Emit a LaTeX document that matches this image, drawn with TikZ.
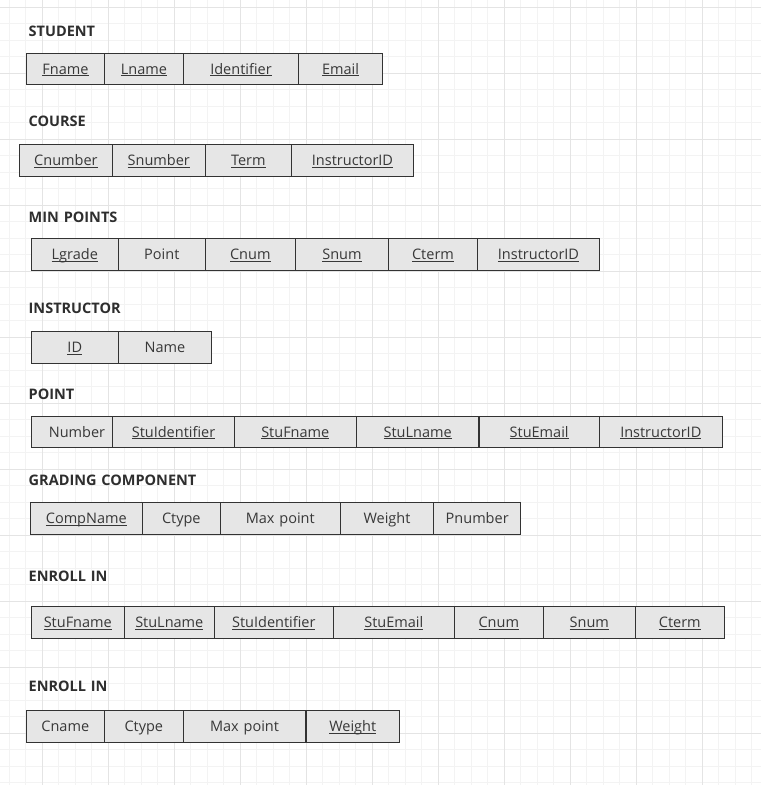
\documentclass[tikz,border=0pt]{standalone}
\usepackage{fontspec}
\setmainfont{Open Sans}
\definecolor{gridminor}{HTML}{F3F3F3}
\definecolor{gridmajor}{HTML}{E4E4E4}
\definecolor{cellfill}{HTML}{E6E6E6}
\definecolor{celldraw}{HTML}{333333}
\definecolor{celltext}{HTML}{383838}
\definecolor{titletext}{HTML}{2E2E2E}
\tikzset{
  cellb/.style={draw=celldraw, fill=cellfill, line width=1pt, inner sep=0pt, outer sep=0pt,
    text=celltext, font=\fontsize{14.5}{16}\selectfont, text height=10.3pt, text depth=0pt},
  titleb/.style={anchor=west, inner sep=0pt, text=titletext,
    font=\fontsize{14.5}{16}\selectfont\bfseries}
}
\newcommand\cellbox[7][]{\node[cellb,#1, minimum width={(#4-#3)*1pt}, minimum height={(#6-#5)*1pt}] (#2) at ({(#3+#4)/2},{(#5+#6)/2+0.5}) {#7};}
\newcommand\U[1]{\setbox0\hbox{#1}\rlap{\rule[-1.8pt]{\wd0}{0.9pt}}\box0}
\begin{document}
\begin{tikzpicture}[x=1pt,y=-1pt]
\useasboundingbox (0,0) rectangle (761,785);
\fill[white] (0,0) rectangle (761,785);
% grid
\foreach \i in {0,...,46} {
  \draw[gridminor, line width=1pt] ({9+16.5*\i},0) -- ({9+16.5*\i},785);
}
\foreach \i in {0,...,47} {
  \draw[gridminor, line width=1pt] (0,{7+16.5*\i}) -- (761,{7+16.5*\i});
}
\foreach \i in {0,...,11} {
  \draw[gridmajor, line width=1pt] ({42+66*\i},0) -- ({42+66*\i},785);
}
\foreach \i in {0,...,11} {
  \draw[gridmajor, line width=1pt] (0,{7+66*\i}) -- (761,{7+66*\i});
}

% STUDENT
\node[titleb] (tstudent) at (28.5,31) {STUDENT};
\cellbox{s1}{26.5}{104.5}{53.3}{84.3}{\U{Fname}}
\cellbox{s2}{104.5}{183.5}{53.3}{84.3}{\U{Lname}}
\cellbox{s3}{183.5}{298.5}{53.3}{84.3}{\U{Identifier}}
\cellbox{s4}{298.5}{382.5}{53.3}{84.3}{\U{Email}}

% COURSE
\node[titleb] (tcourse) at (28.5,121.5) {COURSE};
\cellbox{c1}{19.5}{112.3}{144.3}{176}{\U{Cnumber}}
\cellbox{c2}{112.3}{205.3}{144.3}{176}{\U{Snumber}}
\cellbox{c3}{205.3}{291.3}{144.3}{176}{\U{Term}}
\cellbox{c4}{291.3}{413.7}{144.3}{176}{\U{InstructorID}}

% MIN POINTS
\node[titleb] (tmin) at (28.5,217.8) {MIN\,\,POINTS};
\cellbox{m1}{31.3}{118.3}{238.3}{270.3}{\U{Lgrade}}
\cellbox{m2}{118.3}{205.3}{238.3}{270.3}{Point}
\cellbox{m3}{205.3}{295.3}{238.3}{270.3}{\U{Cnum}}
\cellbox{m4}{295.3}{388.7}{238.3}{270.3}{\U{Snum}}
\cellbox{m5}{388.7}{477.3}{238.3}{270.3}{\U{Cterm}}
\cellbox{m6}{477.3}{599.7}{238.3}{270.3}{\U{InstructorID}}

% INSTRUCTOR
\node[titleb] (tinstr) at (28.5,308.8) {INSTRUCTOR};
\cellbox{i1}{31.3}{118.3}{331.3}{363.3}{\U{ID}}
\cellbox{i2}{118.3}{211.7}{331.3}{363.3}{Name}

% POINT
\node[titleb] (tpoint) at (28.5,394.5) {POINT};
\cellbox{p1}{31.3}{112.7}{416.3}{447.3}{\hspace{10pt}Number}
\cellbox{p2}{112.7}{234.3}{416.3}{447.3}{\U{StuIdentifier}}
\cellbox{p3}{234.3}{356.3}{416.3}{447.3}{\U{StuFname}}
\cellbox{p4}{356.3}{479}{416.3}{447.3}{\U{StuLname}}
\cellbox{p5}{479}{599.3}{416.3}{447.3}{\U{StuEmail}}
\cellbox{p6}{599.3}{722.3}{416.3}{447.3}{\U{InstructorID}}
\draw[celldraw, line width=2pt] (p4.north east) -- (p4.south east);

% GRADING COMPONENT
\node[titleb] (tgrade) at (28.5,480) {GRADING\,\,COMPONENT};
\cellbox{g1}{30.3}{142.3}{502.3}{534.3}{\U{CompName}}
\cellbox{g2}{142.3}{220.3}{502.3}{534.3}{Ctype}
\cellbox{g3}{220.3}{340.3}{502.3}{534.3}{Max\,\,point}
\cellbox{g4}{340.3}{433.7}{502.3}{534.3}{Weight}
\cellbox{g5}{433.7}{520.7}{502.3}{534.3}{Pnumber}

% ENROLL IN (1)
\node[titleb] (tenroll) at (28.5,576.7) {ENROLL\,\,IN};
\cellbox{e1}{31.3}{124.3}{606.3}{638.3}{\U{StuFname}}
\cellbox{e2}{124.3}{214.3}{606.3}{638.3}{\U{StuLname}}
\cellbox{e3}{214.3}{333.3}{606.3}{638.3}{\U{StuIdentifier}}
\cellbox{e4}{333.3}{454.3}{606.3}{638.3}{\U{StuEmail}}
\cellbox{e5}{454.3}{543.3}{606.3}{638.3}{\U{Cnum}}
\cellbox{e6}{543.3}{635.3}{606.3}{638.3}{\U{Snum}}
\cellbox{e7}{635.3}{724.3}{606.3}{638.3}{\U{Cterm}}

% ENROLL IN (2)
\node[titleb] (tenroll2) at (28.5,686.7) {ENROLL\,\,IN};
\cellbox{f1}{26.3}{104.3}{710.3}{742.3}{Cname}
\cellbox{f2}{104.3}{183.3}{710.3}{742.3}{Ctype}
\cellbox{f3}{183.3}{305.7}{710.3}{742.3}{Max\,\,point}
\cellbox{f4}{305.7}{399.7}{710.3}{742.3}{\U{Weight}}
\draw[celldraw, line width=2pt] (f3.north east) -- (f3.south east);
\end{tikzpicture}
\end{document}
